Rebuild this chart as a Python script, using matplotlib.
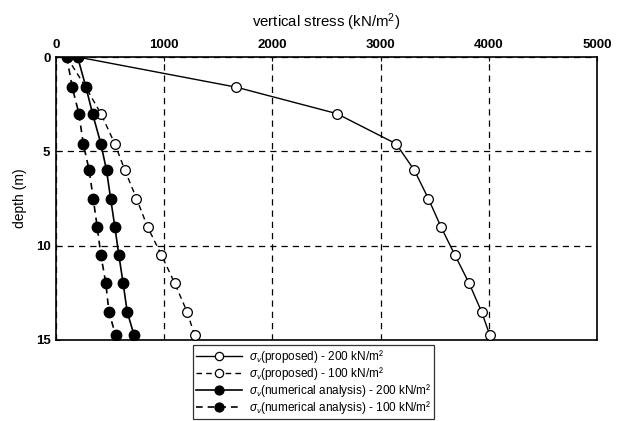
import matplotlib
matplotlib.use("Agg")
import matplotlib.pyplot as plt

plt.rcParams['font.family'] = ['Liberation Sans', 'DejaVu Sans']
plt.rcParams['mathtext.fontset'] = 'custom'
plt.rcParams['mathtext.rm'] = 'Liberation Sans'
plt.rcParams['mathtext.it'] = 'Liberation Sans:italic'

# depth of each measurement point (m)
depth = [0.0, 1.6, 3.0, 4.6, 6.0, 7.5, 9.0, 10.5, 12.0, 13.5, 14.75]

# vertical stress (kN/m2)
proposed_200 = [200, 1667, 2595, 3143, 3312, 3441, 3558, 3687, 3819, 3933, 4010]
proposed_100 = [100, 275, 415, 544, 637, 744, 846, 975, 1098, 1211, 1282]
numerical_200 = [200, 277, 338, 415, 467, 505, 544, 581, 621, 658, 722]
numerical_100 = [100, 150, 212, 252, 307, 344, 381, 415, 461, 489, 551]

labels = [
    r'$\sigma_v$(proposed) - 200 kN/m²',
    r'$\sigma_v$(proposed) - 100 kN/m²',
    r'$\sigma_v$(numerical analysis) - 200 kN/m²',
    r'$\sigma_v$(numerical analysis) - 100 kN/m²',
]

x_ticks = [0, 1000, 2000, 3000, 4000, 5000]
y_ticks = [0, 5, 10, 15]

fig = plt.figure(figsize=(6.24, 4.21), dpi=100)
ax = fig.add_axes([0.0897, 0.1924, 0.8670, 0.6722])

ax.plot(proposed_200, depth, '-', color='black', lw=1.0, marker='o', ms=7,
        mfc='white', mec='black', mew=0.9, label=labels[0], zorder=3)
ax.plot(proposed_100, depth, '--', color='black', lw=1.0, marker='o', ms=7,
        mfc='white', mec='black', mew=0.9, label=labels[1], dashes=(4, 3), zorder=3)
ax.plot(numerical_200, depth, '-', color='black', lw=1.2, marker='o', ms=7.5,
        mfc='black', mec='black', label=labels[2], zorder=4)
ax.plot(numerical_100, depth, '--', color='black', lw=1.2, marker='o', ms=7.5,
        mfc='black', mec='black', label=labels[3], dashes=(4, 3), zorder=4)

ax.set_xlim(0, 5000)
ax.set_ylim(15, 0)
ax.set_xticks(x_ticks)
ax.set_yticks(y_ticks)
ax.xaxis.tick_top()
ax.xaxis.set_label_position('top')
ax.tick_params(axis='both', direction='in', length=3, width=0.8,
               labelsize=9.5, colors='black', pad=4)
for lbl in ax.get_xticklabels() + ax.get_yticklabels():
    lbl.set_fontweight('bold')

ax.set_xlabel('vertical stress (kN/m$^2$)', fontsize=10.8, labelpad=9)
ax.set_ylabel('depth (m)', fontsize=10, labelpad=6)

ax.grid(True, color='black', linestyle=(0, (5, 4)), linewidth=0.9)
for sp in ax.spines.values():
    sp.set_linewidth(1.2)

leg = fig.legend(loc='upper left', bbox_to_anchor=(0.309, 0.180),
                 bbox_transform=fig.transFigure, borderaxespad=0,
                 fontsize=8.5, frameon=True, fancybox=False, edgecolor='black',
                 handlelength=3.9, handletextpad=0.6, labelspacing=0.0,
                 borderpad=0.25, markerscale=0.85)
leg.get_frame().set_linewidth(0.9)

fig.savefig('out.png', dpi=100)
